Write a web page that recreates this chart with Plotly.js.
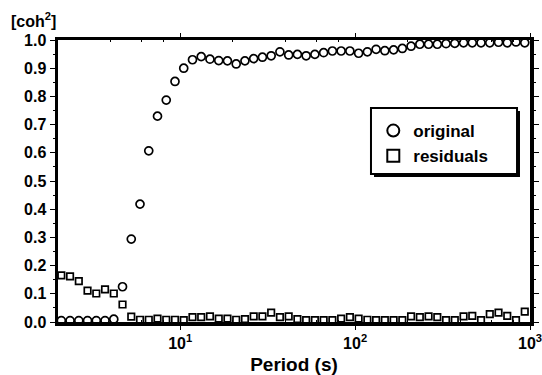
<!DOCTYPE html>
<html>
<head>
<meta charset="utf-8">
<script src="https://cdn.plot.ly/plotly-3.0.1.min.js"></script>
<style>html,body{margin:0;padding:0;background:#fff;}#chart{width:542px;height:375px;}</style>
</head>
<body>
<div id="chart"></div>
<script>
// Period (s) of each estimate
var periods = [2.089, 2.344, 2.630, 2.951, 3.311, 3.715, 4.169, 4.677, 5.248, 5.888,
  6.607, 7.413, 8.318, 9.333, 10.47, 11.75, 13.18, 14.79, 16.60, 18.62,
  20.89, 23.44, 26.30, 29.51, 33.11, 37.15, 41.69, 46.77, 52.48, 58.88,
  66.07, 74.13, 83.18, 93.33, 104.7, 117.5, 131.8, 147.9, 166.0, 186.2,
  208.9, 234.4, 263.0, 295.1, 331.1, 371.5, 416.9, 467.7, 524.8, 588.8,
  660.7, 741.3, 831.8, 933.3];

// squared coherence, original signal
var original = [0.005, 0.005, 0.005, 0.005, 0.005, 0.005, 0.010, 0.125, 0.294, 0.418,
  0.607, 0.730, 0.787, 0.853, 0.900, 0.930, 0.941, 0.932, 0.927, 0.926,
  0.915, 0.926, 0.934, 0.939, 0.944, 0.958, 0.947, 0.949, 0.944, 0.949,
  0.955, 0.961, 0.961, 0.961, 0.953, 0.958, 0.967, 0.962, 0.965, 0.970,
  0.978, 0.985, 0.985, 0.985, 0.987, 0.988, 0.990, 0.990, 0.990, 0.990,
  0.992, 0.990, 0.993, 0.990];

// squared coherence, residuals
var residuals = [0.165, 0.162, 0.145, 0.111, 0.101, 0.116, 0.101, 0.062, 0.019, 0.008,
  0.008, 0.012, 0.008, 0.008, 0.007, 0.017, 0.017, 0.020, 0.012, 0.012,
  0.008, 0.010, 0.020, 0.020, 0.033, 0.017, 0.020, 0.010, 0.007, 0.007,
  0.007, 0.007, 0.012, 0.017, 0.012, 0.008, 0.007, 0.007, 0.007, 0.007,
  0.020, 0.017, 0.020, 0.017, 0.007, 0.007, 0.020, 0.022, 0.007, 0.028,
  0.033, 0.022, 0.007, 0.037];

var seriesNames = ['original', 'residuals'];
var xTickVals = [10, 100, 1000];
var xTickText = ['10<sup>1</sup>', '10<sup>2</sup>', '10<sup>3</sup>'];
var yTickVals = [0, 0.1, 0.2, 0.3, 0.4, 0.5, 0.6, 0.7, 0.8, 0.9, 1.0];
var yTickText = ['0.0', '0.1', '0.2', '0.3', '0.4', '0.5', '0.6', '0.7', '0.8', '0.9', '1.0'];

var FONT = 'Liberation Sans, Arial, Helvetica, sans-serif';

var traces = [
  {x: periods, y: original, name: seriesNames[0], type: 'scatter', mode: 'markers',
   marker: {symbol: 'circle-open', size: 8, color: '#000', line: {width: 1.7, color: '#000'}}},
  {x: periods, y: residuals, name: seriesNames[1], type: 'scatter', mode: 'markers',
   marker: {symbol: 'square-open', size: 6.5, color: '#000', line: {width: 1.7, color: '#000'}}}
];

var layout = {
  width: 542, height: 375,
  margin: {l: 58, r: 12, t: 40, b: 53, pad: 0},
  paper_bgcolor: '#fff', plot_bgcolor: '#fff',
  font: {family: FONT, color: '#000', size: 15, weight: 'bold'},
  showlegend: true,
  legend: {x: 0.668, y: 0.741, xanchor: 'left', yanchor: 'top',
    bgcolor: 'rgba(0,0,0,0)', borderwidth: 0, itemsizing: 'constant',
    font: {family: FONT, size: 17, weight: 'bold', color: '#000'},
    tracegroupgap: 0},
  xaxis: {type: 'log', range: [Math.log10(2), 3],
    tickmode: 'array', tickvals: xTickVals, ticktext: xTickText,
    ticklabeloverflow: 'allow',
    ticks: 'outside', ticklen: 4, tickwidth: 1, tickcolor: '#000',
    showline: true, linewidth: 3.5, linecolor: '#000', mirror: 'ticks',
    showgrid: false, zeroline: false,
    tickfont: {family: FONT, size: 16, weight: 'bold', color: '#000'},
    minor: {tickmode: 'array', tickvals: [4, 6, 8, 20, 40, 60, 80, 200, 400, 600, 800],
      ticks: 'inside', ticklen: 2, tickcolor: '#000', showgrid: false},
    title: {text: 'Period (s)', standoff: 9,
      font: {family: FONT, size: 19, weight: 'bold', color: '#000'}}},
  yaxis: {range: [0, 1],
    tickmode: 'array', tickvals: yTickVals, ticktext: yTickText,
    ticks: 'outside', ticklen: 5, tickwidth: 1, tickcolor: '#000',
    showline: true, linewidth: 3.5, linecolor: '#000', mirror: 'ticks',
    showgrid: false, zeroline: false,
    tickfont: {family: FONT, size: 16, weight: 'bold', color: '#000'},
    minor: {dtick: 0.05, ticks: 'outside', ticklen: 2, tickcolor: '#000', showgrid: false}},
  shapes: [
    {type: 'rect', xref: 'paper', yref: 'paper', x0: 0.6695, x1: 0.9788, y0: 0.5142, y1: 0.7482,
     line: {width: 0}, fillcolor: '#000', layer: 'above'},
    {type: 'rect', xref: 'paper', yref: 'paper', x0: 0.6631, x1: 0.9725, y0: 0.5248, y1: 0.7589,
     line: {width: 2, color: '#000'}, fillcolor: '#fff', layer: 'above'}
  ],
  annotations: [
    {text: '[coh<sup>2</sup>]', xref: 'paper', yref: 'paper', x: -0.104, y: 1.072,
     xanchor: 'left', yanchor: 'middle', showarrow: false,
     font: {family: FONT, size: 16, weight: 'bold', color: '#000'}}
  ]
};

Plotly.newPlot('chart', traces, layout, {staticPlot: true, displayModeBar: false});
</script>
</body>
</html>
